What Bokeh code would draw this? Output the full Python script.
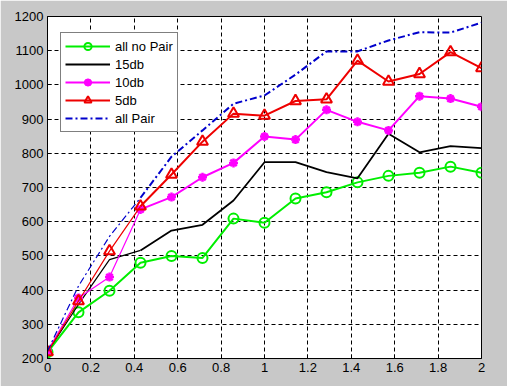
import numpy as np
from bokeh.plotting import figure
from bokeh.models import FixedTicker, CustomJSTickFormatter, Range1d, Legend, LegendItem
from bokeh.embed import file_html
from bokeh.resources import INLINE

x = [i * 2 / 14 for i in range(15)]
all_no_pair = [218, 335, 398, 480, 500, 494, 609, 597, 668, 686, 715, 734, 743, 761, 743]
db15 = [220, 358, 489, 516, 574, 591, 662, 774, 774, 745, 727, 857, 803, 821, 815]
db10 = [222, 377, 438, 636, 672, 730, 772, 849, 840, 927, 892, 867, 967, 960, 936]
db5 = [219, 368, 514, 645, 738, 834, 916, 910, 953, 958, 1071, 1010, 1032, 1096, 1049]
all_pair = [222, 412, 557, 670, 790, 867, 945, 969, 1030, 1098, 1098, 1130, 1154, 1153, 1182]

x_ticks = [0, 0.2, 0.4, 0.6, 0.8, 1.0, 1.2, 1.4, 1.6, 1.8, 2.0]
y_ticks = [200, 300, 400, 500, 600, 700, 800, 900, 1000, 1100, 1200]

p = figure(width=507, height=386, output_backend="svg", toolbar_location=None,
           x_range=Range1d(0, 2), y_range=Range1d(200, 1200),
           min_border_left=47, min_border_right=26, min_border_top=16, min_border_bottom=28)
p.background_fill_color = "white"
p.border_fill_color = "#c8c8c8"
p.outline_line_color = "black"
p.outline_line_width = 1

for ax in (p.xaxis[0], p.yaxis[0]):
    ax.axis_line_color = "black"
    ax.major_tick_in = 4
    ax.major_tick_out = 0
    ax.minor_tick_line_color = None
    ax.major_label_text_font = "Liberation Sans"
    ax.major_label_text_font_size = "13px"
    ax.major_label_text_color = "black"
    ax.major_label_standoff = 4
p.xaxis.ticker = FixedTicker(ticks=x_ticks)
p.yaxis.ticker = FixedTicker(ticks=y_ticks)
p.xaxis.formatter = CustomJSTickFormatter(code="return String(Math.round(tick*10)/10);")
p.yaxis.formatter = CustomJSTickFormatter(code="return String(Math.round(tick));")

p.grid.grid_line_color = "black"
p.grid.grid_line_dash = "4 3"
p.grid.grid_line_width = 1
p.grid.grid_line_alpha = 1.0

GREEN, MAG, RED, BLUE = "#00ee00", "#ff00ff", "#ee0000", "#0000cc"

g1 = p.line(x, all_no_pair, line_color=GREEN, line_width=2)
g1m = p.scatter(x, all_no_pair, marker="circle", size=10, fill_color=None, line_color=GREEN, line_width=2)

p.line(x[:4], db15[:4], line_color="black", line_width=1.2)
g2 = p.line(x[3:], db15[3:], line_color="black", line_width=1.8)

p.line(x[:4], db10[:4], line_color=MAG, line_width=1.2)
g3 = p.line(x[3:], db10[3:], line_color=MAG, line_width=2)
g3m = p.scatter(x, db10, marker="asterisk", size=9, line_color=MAG, line_width=2.5)
g3d = p.scatter(x, db10, marker="circle", size=5, fill_color=MAG, line_color=MAG)

p.line(x[:4], db5[:4], line_color=RED, line_width=1.2)
g4 = p.line(x[3:], db5[3:], line_color=RED, line_width=2)
g4m = p.scatter(x, db5, marker="triangle", size=11, fill_color=None, line_color=RED, line_width=2)

p.line(x[:4], all_pair[:4], line_color=BLUE, line_width=1.2, line_dash="7 3 2 3")
g5 = p.line(x[3:], all_pair[3:], line_color=BLUE, line_width=2, line_dash="7 3 2 3")

legend = Legend(items=[
    LegendItem(label="all no Pair", renderers=[g1, g1m]),
    LegendItem(label="15db", renderers=[g2]),
    LegendItem(label="10db", renderers=[g3, g3m, g3d]),
    LegendItem(label="5db", renderers=[g4, g4m]),
    LegendItem(label="all Pair", renderers=[g5]),
], location=(13, 226))
legend.border_line_color = "black"
legend.border_line_width = 1
legend.background_fill_color = "white"
legend.background_fill_alpha = 1
legend.label_text_font = "Liberation Sans"
legend.label_text_font_size = "13px"
legend.label_text_color = "black"
legend.glyph_width = 45
legend.glyph_height = 18
legend.label_height = 18
legend.spacing = 0
legend.padding = 4
legend.margin = 0
legend.label_standoff = 5
p.add_layout(legend)

open("out.html", "w").write(file_html(p, INLINE))
